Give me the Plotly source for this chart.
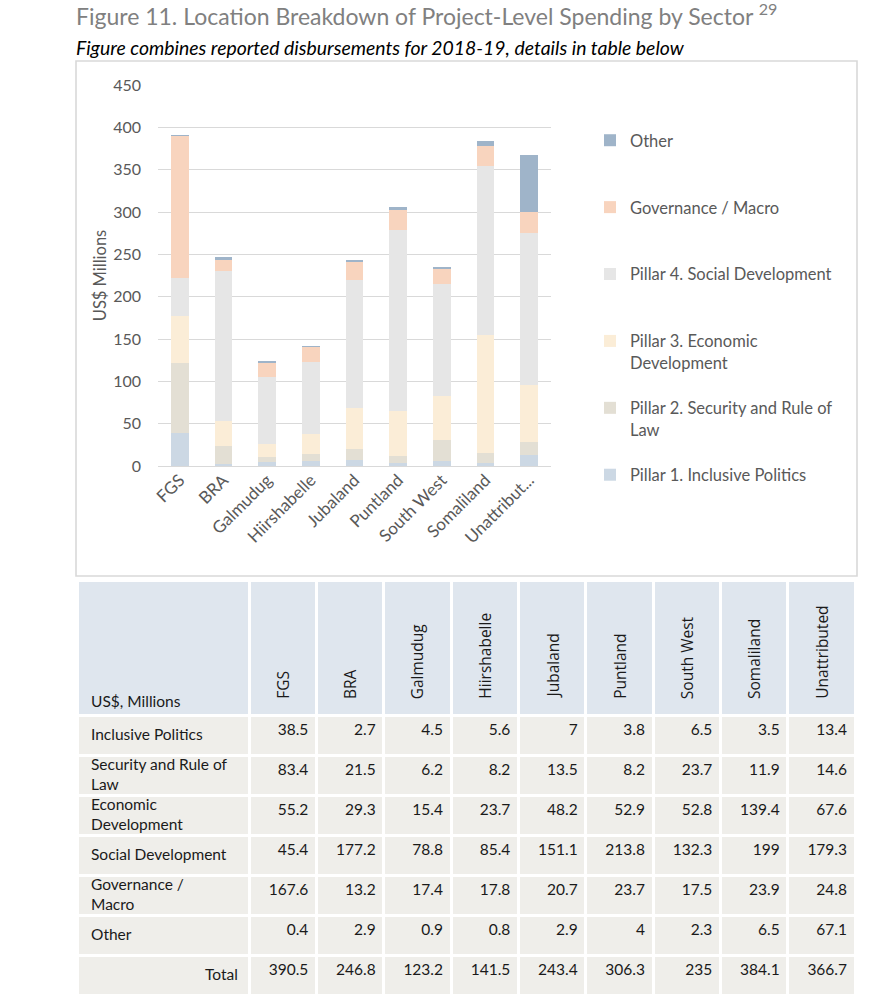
import plotly.graph_objects as go

W, H = 890, 1008

# ---------------- data ----------------
regions = ["FGS", "BRA", "Galmudug", "Hiirshabelle", "Jubaland", "Puntland",
           "South West", "Somaliland", "Unattributed"]
axis_labels = ["FGS", "BRA", "Galmudug", "Hiirshabelle", "Jubaland", "Puntland",
               "South West", "Somaliland", "Unattribut..."]

inclusive_politics = [38.5, 2.7, 4.5, 5.6, 7, 3.8, 6.5, 3.5, 13.4]
security_rule_of_law = [83.4, 21.5, 6.2, 8.2, 13.5, 8.2, 23.7, 11.9, 14.6]
economic_development = [55.2, 29.3, 15.4, 23.7, 48.2, 52.9, 52.8, 139.4, 67.6]
social_development = [45.4, 177.2, 78.8, 85.4, 151.1, 213.8, 132.3, 199, 179.3]
governance_macro = [167.6, 13.2, 17.4, 17.8, 20.7, 23.7, 17.5, 23.9, 24.8]
other = [0.4, 2.9, 0.9, 0.8, 2.9, 4, 2.3, 6.5, 67.1]
totals = [390.5, 246.8, 123.2, 141.5, 243.4, 306.3, 235, 384.1, 366.7]

series_names = ["Pillar 1. Inclusive Politics",
                "Pillar 2. Security and Rule of<br>Law",
                "Pillar 3. Economic<br>Development",
                "Pillar 4. Social Development",
                "Governance / Macro",
                "Other"]
series_values = [inclusive_politics, security_rule_of_law, economic_development,
                 social_development, governance_macro, other]
series_colors = ["#ccd8e4", "#e3dfd4", "#fbedd7", "#e6e6e6", "#f8d4be", "#9fb4c9"]

row_labels = ["Inclusive Politics", "Security and Rule of<br>Law", "Economic<br>Development",
              "Social Development", "Governance /<br>Macro", "Other", "Total"]
table_header_title = "US$, Millions"
y_ticks = [0, 50, 100, 150, 200, 250, 300, 350, 400, 450]


def px_x(x):
    return x / W


def px_y(y):
    return 1 - y / H


FONT = "Lato, 'Open Sans', sans-serif"
GREY = "#595959"
TXT = "#1a1a1a"

fig = go.Figure()

# stacked bars (bottom to top); legend shows them top-down (Other first)
n_series = len(series_names)
for k, (name, vals, col) in enumerate(zip(series_names, series_values, series_colors)):
    legend_name = name if "<br>" in name else name + "<br> "
    fig.add_trace(go.Bar(
        x=regions, y=vals, name=legend_name, legendgroup=name,
        legendrank=n_series - k,
        marker=dict(color=col, line=dict(width=0)),
        hoverinfo="skip",
    ))

# ---------------- table ----------------
def fmt(v):
    return "{:g}".format(v)

cols = [[""] * len(row_labels)]
for i in range(len(regions)):
    col = [inclusive_politics[i], security_rule_of_law[i], economic_development[i],
           social_development[i], governance_macro[i], other[i], totals[i]]
    cols.append([fmt(v) for v in col])

align = ["left"] + ["right"] * len(regions)

T_LEFT, T_RIGHT, T_TOP = 77, 855, 580
HEADER_H, ROW_H = 135, 40
T_BOTTOM = T_TOP + HEADER_H + ROW_H * len(row_labels)
label_w = 172
col_w = (T_RIGHT - T_LEFT - label_w) / len(regions)

fig.add_trace(go.Table(
    domain=dict(x=[px_x(T_LEFT), px_x(T_RIGHT)], y=[px_y(T_BOTTOM + 2), px_y(T_TOP)]),
    columnwidth=[label_w] + [col_w] * len(regions),
    header=dict(values=[""] * (len(regions) + 1), height=HEADER_H,
                fill=dict(color="#dfe6ee"), line=dict(color="white", width=3)),
    cells=dict(values=cols, height=ROW_H, align=align,
               fill=dict(color="#efeeea"), line=dict(color="white", width=3),
               font=dict(family=FONT, size=15.5, color=TXT)),
))

annotations = [
    dict(text="Figure 11. Location Breakdown of Project-Level Spending by Sector <sup>29</sup>",
         x=px_x(74), y=px_y(15), xref="paper", yref="paper", xanchor="left", yanchor="middle",
         showarrow=False, font=dict(family=FONT, size=23, color="#808080")),
    dict(text="<i>Figure combines reported disbursements for 2018-19, details in table below</i>",
         x=px_x(74), y=px_y(47), xref="paper", yref="paper", xanchor="left", yanchor="middle",
         showarrow=False, font=dict(family=FONT, size=19.4, color="#000000")),
    dict(text=table_header_title, x=px_x(89), y=px_y(701), xref="paper", yref="paper",
         xanchor="left", yanchor="middle", showarrow=False,
         font=dict(family=FONT, size=15.5, color=TXT)),
]
row0 = T_TOP + HEADER_H
for j, lab in enumerate(row_labels):
    cy = row0 + ROW_H * (j + 0.5) - 1
    last = j == len(row_labels) - 1
    annotations.append(dict(
        text=lab, x=px_x(T_LEFT + label_w - 9 if last else 89), y=px_y(cy),
        xref="paper", yref="paper", xanchor="right" if last else "left", yanchor="middle",
        align="left", showarrow=False, font=dict(family=FONT, size=15.5, color=TXT)))

x0 = T_LEFT + label_w
for i, r in enumerate(regions):
    cx = x0 + col_w * (i + 0.5)
    annotations.append(dict(text=r, x=px_x(cx), y=px_y(701), xref="paper", yref="paper",
                            xanchor="center", yanchor="bottom", textangle=-90, showarrow=False,
                            font=dict(family="'Open Sans', Lato, sans-serif", size=15.5, color=TXT)))

fig.update_layout(
    width=W, height=H, margin=dict(l=0, r=0, t=0, b=0),
    paper_bgcolor="white", plot_bgcolor="white",
    barmode="stack", bargap=0.6,
    font=dict(family=FONT, size=16, color=GREY),
    xaxis=dict(domain=[px_x(158), px_x(551)], tickangle=-45, showgrid=False, showline=False,
               ticks="", tickfont=dict(size=17, color=GREY), automargin=False,
               ticktext=axis_labels, tickvals=regions, tickmode="array"),
    yaxis=dict(domain=[px_y(466), px_y(85)], range=[0, 450], tickvals=y_ticks,
               gridcolor="#d9d9d9", gridwidth=1.3, zeroline=True, zerolinecolor="#d9d9d9",
               zerolinewidth=1.3, showline=False, ticks="", automargin=False,
               tickfont=dict(size=16, color=GREY), ticklabelstandoff=16,
               title=dict(text="US$ Millions", standoff=2, font=dict(size=16.5, color=GREY))),
    legend=dict(x=px_x(590), y=px_y(123), xanchor="left", yanchor="top",
                traceorder="grouped", tracegroupgap=21, valign="top",
                font=dict(family=FONT, size=16.5, color=GREY), bgcolor="rgba(0,0,0,0)",
                itemclick=False, itemdoubleclick=False),
    shapes=[dict(type="rect", xref="paper", yref="paper", x0=px_x(76), x1=px_x(857),
                 y0=px_y(576), y1=px_y(61), line=dict(color="#d9d9d9", width=1.6),
                 fillcolor="rgba(0,0,0,0)", layer="below")],
    annotations=annotations,
    showlegend=True,
)

fig.write_html("out.html", config={"displayModeBar": False},
               post_script="document.body.style.margin='0';")
